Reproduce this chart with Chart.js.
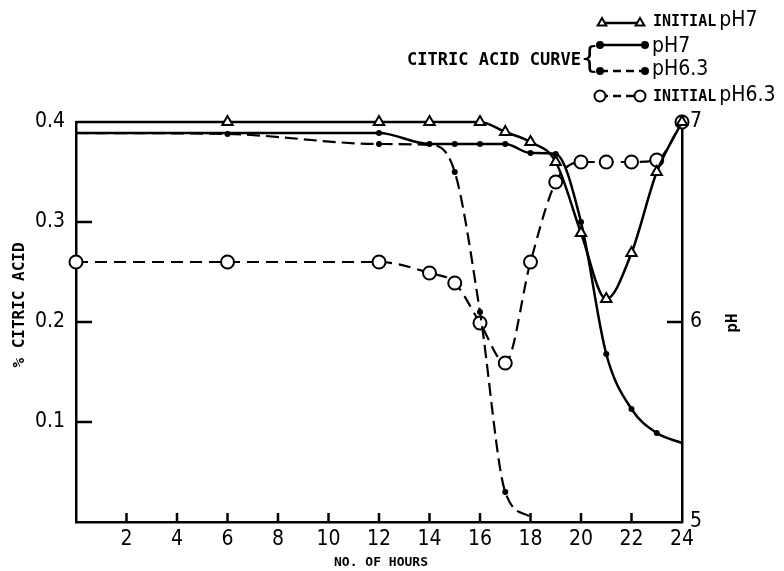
<!DOCTYPE html>
<html>
<head>
<meta charset="utf-8">
<script src="https://cdn.jsdelivr.net/npm/chart.js@4.4.1/dist/chart.umd.min.js"></script>
<style>
  html, body { margin: 0; padding: 0; background: #fff; }
  #wrap { width: 784px; height: 571px; }
</style>
</head>
<body>
<div id="wrap"><canvas id="grafico" width="784" height="571"></canvas></div>
<script>
/* dados */
const INI_PH7_HORAS = [0, 6, 12, 14, 16, 17, 18, 19, 20, 21, 22, 23, 24];
const INI_PH7_VAL   = [7, 7, 7, 7, 7, 6.95, 6.9, 6.8, 6.445, 6.115, 6.345, 6.75, 7];

const CIT_PH7_HORAS = [0, 12, 14, 15, 16, 17, 18, 19, 20, 21, 22, 23, 24];
const CIT_PH7_VAL   = [0.389, 0.389, 0.378, 0.378, 0.378, 0.378, 0.369, 0.368, 0.30, 0.168, 0.113, 0.089, 0.079];

const CIT_PH63_HORAS = [0, 6, 12, 14, 15, 16, 17, 18];
const CIT_PH63_VAL   = [0.389, 0.388, 0.378, 0.377, 0.35, 0.21, 0.03, 0.005];

const INI_PH63_HORAS = [0, 6, 12, 14, 15, 16, 17, 18, 19, 20, 21, 22, 23, 24];
const INI_PH63_VAL   = [6.3, 6.3, 6.3, 6.245, 6.195, 5.995, 5.795, 6.3, 6.7, 6.8, 6.8, 6.8, 6.81, 7];

const HORAS_TICKS    = [2, 4, 6, 8, 10, 12, 14, 16, 18, 20, 22, 24];
const CITRICO_TICKS  = [0.1, 0.2, 0.3, 0.4];
const PH_TICKS       = [5, 6, 7];

const NARROW = "'Liberation Sans Narrow', 'DejaVu Sans Condensed', 'Roboto Condensed', sans-serif";
const MONO = "'DejaVu Sans Mono', 'Liberation Mono', monospace";

function pontos(horas, vals) { return horas.map((h, i) => ({ x: h, y: vals[i] })); }

function tickLista(lista) {
  return s => { s.ticks = lista.map(v => ({ value: v })); };
}

/* marcas internas, títulos e legenda */
const extras = {
  id: "extras",
  afterDraw(chart) {
    const ctx = chart.ctx;
    const sx = chart.scales.x, sc = chart.scales.cit, sp = chart.scales.ph;
    ctx.save();
    ctx.strokeStyle = "#000";
    ctx.lineWidth = 2.5;
    ctx.beginPath();
    HORAS_TICKS.filter(v => v < 24).forEach(v => {
      const px = sx.getPixelForValue(v);
      ctx.moveTo(px, sx.top); ctx.lineTo(px, sx.top - 9);
    });
    CITRICO_TICKS.filter(v => v < 0.4).forEach(v => {
      const py = sc.getPixelForValue(v);
      ctx.moveTo(sc.right, py); ctx.lineTo(sc.right + 16, py);
    });
    PH_TICKS.filter(v => v > 5 && v < 7).forEach(v => {
      const py = sp.getPixelForValue(v);
      ctx.moveTo(sp.left, py); ctx.lineTo(sp.left - 15, py);
    });
    ctx.stroke();

    ctx.fillStyle = "#000";
    ctx.textBaseline = "middle";

    // título do eixo x
    ctx.textAlign = "center";
    ctx.font = "bold 13px " + MONO;
    ctx.fillText("NO. OF HOURS", 381, 563);

    // título eixo esquerdo
    ctx.save();
    ctx.translate(20, 305);
    ctx.rotate(-Math.PI / 2);
    ctx.font = "bold 16px " + MONO;
    ctx.fillText("% CITRIC ACID", 0, 0);
    ctx.restore();

    // título eixo direito
    ctx.save();
    ctx.translate(733, 323);
    ctx.rotate(-Math.PI / 2);
    ctx.font = "bold 16px " + MONO;
    ctx.fillText("pH", 0, 0);
    ctx.restore();

    // legenda
    ctx.textAlign = "left";
    amostra(ctx, 602, 640, 23, false, "triangle", 5);
    amostra(ctx, 600, 645, 45, false, "dot", 3);
    amostra(ctx, 600, 645, 71, true, "dot", 3);
    amostra(ctx, 600, 640, 96, true, "circle", 5.5);

    rotulo(ctx, "INITIAL", "pH7", 653, 21);
    ctx.font = "21px " + NARROW;
    ctx.fillText("pH7", 652, 47);
    ctx.fillText("pH6.3", 652, 70);
    rotulo(ctx, "INITIAL", "pH6.3", 653, 96);

    ctx.font = "bold 17px " + MONO;
    ctx.fillText("CITRIC ACID CURVE", 407, 61);
    ctx.font = "30px 'DejaVu Sans', sans-serif";
    ctx.fillText("{", 580, 60);
    ctx.restore();
  }
};

function rotulo(ctx, a, b, x, y) {
  ctx.font = "bold 15px " + MONO;
  ctx.fillText(a, x, y + 1);
  const w = ctx.measureText(a).width;
  ctx.font = "21px " + NARROW;
  ctx.fillText(b, x + w + 3, y);
}

function amostra(ctx, x1, x2, y, tracejado, estilo, raio) {
  ctx.save();
  ctx.strokeStyle = "#000";
  ctx.lineWidth = 2.5;
  ctx.setLineDash(tracejado ? [8, 5] : []);
  ctx.beginPath();
  ctx.moveTo(x1, y); ctx.lineTo(x2, y);
  ctx.stroke();
  ctx.setLineDash([]);
  ctx.lineWidth = 2;
  [x1, x2].forEach(x => {
    ctx.fillStyle = estilo === "dot" ? "#000" : "#fff";
    Chart.helpers.drawPoint(ctx, {
      pointStyle: estilo === "dot" ? "circle" : estilo,
      radius: raio, rotation: 0, borderWidth: 2
    }, x, y);
  });
  ctx.restore();
}

const semMarca = lista => c => lista.includes(c.raw.x);

new Chart(document.getElementById("grafico"), {
  type: "line",
  data: {
    datasets: [
      {
        label: "INITIAL pH7",
        data: pontos(INI_PH7_HORAS, INI_PH7_VAL),
        yAxisID: "ph",
        borderColor: "#000", borderWidth: 2.5,
        pointStyle: "triangle",
        pointRadius: c => semMarca([0])(c) ? 0 : 6,
        pointBackgroundColor: "#fff", pointBorderColor: "#000", pointBorderWidth: 2,
        cubicInterpolationMode: "monotone", clip: false
      },
      {
        label: "pH7",
        data: pontos(CIT_PH7_HORAS, CIT_PH7_VAL),
        yAxisID: "cit",
        borderColor: "#000", borderWidth: 2.5,
        pointStyle: "circle",
        pointRadius: c => semMarca([0, 24])(c) ? 0 : 3,
        pointBackgroundColor: "#000", pointBorderColor: "#000", pointBorderWidth: 0,
        cubicInterpolationMode: "monotone", clip: false
      },
      {
        label: "pH6.3",
        data: pontos(CIT_PH63_HORAS, CIT_PH63_VAL),
        yAxisID: "cit",
        borderColor: "#000", borderWidth: 2.2, borderDash: [13, 6],
        pointStyle: "circle",
        pointRadius: c => semMarca([0, 14, 18])(c) ? 0 : 3,
        pointBackgroundColor: "#000", pointBorderColor: "#000", pointBorderWidth: 0,
        cubicInterpolationMode: "monotone", clip: false
      },
      {
        label: "INITIAL pH6.3",
        data: pontos(INI_PH63_HORAS, INI_PH63_VAL),
        yAxisID: "ph",
        borderColor: "#000", borderWidth: 2.2, borderDash: [12, 7],
        pointStyle: "circle",
        pointRadius: 6.5,
        pointBackgroundColor: "#fff", pointBorderColor: "#000", pointBorderWidth: 2,
        cubicInterpolationMode: "monotone", clip: false
      }
    ]
  },
  options: {
    responsive: false,
    animation: false,
    devicePixelRatio: 1,
    events: [],
    layout: { padding: { top: 122, left: 0, right: 0, bottom: 0 } },
    plugins: { legend: { display: false }, tooltip: { enabled: false } },
    scales: {
      x: {
        type: "linear", min: 0, max: 24,
        afterBuildTicks: tickLista(HORAS_TICKS),
        afterFit: s => { s.height = 49; },
        grid: { display: false, drawTicks: false },
        border: { display: true, color: "#000", width: 2.5 },
        ticks: { autoSkip: false, maxRotation: 0, padding: 5, color: "#000",
                 font: { family: NARROW, size: 21 } }
      },
      cit: {
        type: "linear", position: "left", min: 0, max: 0.4,
        afterBuildTicks: tickLista(CITRICO_TICKS),
        afterFit: s => { s.width = 76; },
        grid: { display: false, drawTicks: false },
        border: { display: true, color: "#000", width: 2.5 },
        ticks: { padding: 11, color: "#000", font: { family: NARROW, size: 21 },
                 callback: v => v.toFixed(1) }
      },
      ph: {
        type: "linear", position: "right", min: 5, max: 7,
        afterBuildTicks: tickLista(PH_TICKS),
        afterFit: s => { s.width = 102; },
        grid: { display: false, drawTicks: false },
        border: { display: true, color: "#000", width: 2.5 },
        ticks: { padding: 8, color: "#000", font: { family: NARROW, size: 21 },
                 callback: v => String(v) }
      }
    }
  },
  plugins: [extras]
});
</script>
</body>
</html>
